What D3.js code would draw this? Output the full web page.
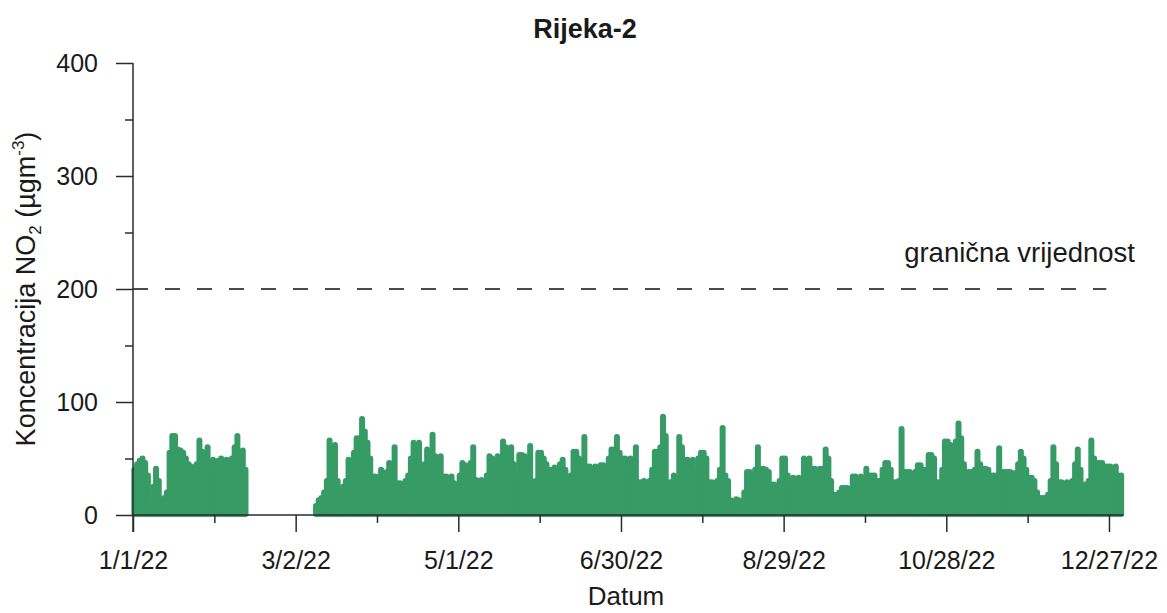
<!DOCTYPE html>
<html>
<head>
<meta charset="utf-8">
<script src="https://cdn.jsdelivr.net/npm/d3@7"></script>
<style>
    body { margin: 0; background: #fff; }
    text { font-family: "Liberation Sans", Arial, sans-serif; fill: #1a1a1a; }
</style>
</head>
<body>
<svg id="chart" width="1167" height="613"></svg>
<script>
// dnevni maksimumi satnih NO2 vrijednosti (µg/m3), procijenjeno sa slike; null = nema podataka
let janMax = [40, 45, 48, 50, 46, 35, 10, 25, 41, 30, 12, 15, 20, 55, 70, 70, 58, 57, 55, 50, 45, 43, 40, 45, 66, 56, 52, 60, 45, 49, 42]
let febMax = [48, 50, 45, 49, 40, 50, 60, 70, 55, 57, 40, null, null, null, null, null, null, null, null, null, null, null, null, null, null, null, null, null]
let marMax = [null, null, null, null, null, null, null, null, 8, 13, 15, 20, 30, 66, 55, 62, 30, 22, 25, 30, 49, 45, 55, 68, 68, 85, 74, 64, 50, 34, 34]
let aprMax = [30, 40, 35, 38, 46, 45, 60, 28, 28, 25, 30, 35, 50, 64, 55, 64, 40, 45, 58, 50, 71, 52, 50, 52, 34, 34, 30, 34, 28, 22]
let mayMax = [35, 46, 44, 40, 46, 60, 31, 30, 31, 28, 35, 52, 50, 45, 52, 48, 65, 60, 55, 60, 45, 35, 53, 53, 52, 50, 61, 19, 30, 55, 55]
let junMax = [50, 45, 40, 40, 42, 38, 45, 49, 40, 31, 35, 56, 56, 50, 45, 69, 43, 43, 40, 43, 42, 44, 44, 40, 50, 58, 58, 69, 55, 50]
let julMax = [50, 49, 50, 45, 60, 29, 29, 30, 28, 30, 40, 56, 56, 60, 87, 70, 29, 29, 35, 30, 69, 60, 49, 49, 45, 49, 40, 50, 55, 55, 50]
let augMax = [29, 29, 28, 30, 40, 77, 35, 30, 13, 12, 14, 13, 12, 20, 38, 38, 35, 40, 60, 41, 41, 40, 38, 27, 27, 25, 30, 50, 50, 35, 29]
let sepMax = [33, 30, 33, 30, 50, 48, 50, 41, 41, 40, 41, 41, 58, 50, 30, 18, 18, 20, 24, 24, 24, 22, 34, 34, 30, 34, 30, 41, 35, 35]
let octMax = [35, 30, 30, 40, 46, 46, 40, 29, 29, 30, 76, 38, 38, 38, 36, 38, 44, 44, 40, 40, 53, 53, 50, 29, 29, 40, 65, 65, 62, 60, 65]
let novMax = [81, 68, 45, 38, 38, 38, 40, 56, 45, 41, 41, 40, 35, 35, 35, 59, 38, 38, 38, 38, 37, 37, 45, 56, 50, 40, 33, 33, 30, 20]
let decMax = [15, 15, 15, 18, 30, 60, 45, 29, 29, 25, 29, 28, 30, 45, 58, 40, 27, 27, 30, 66, 50, 46, 46, 46, 43, 43, 43, 40, 43, 35, 35]

let yTicks = [0, 100, 200, 300, 400]
let limitValue = 200
let limitLabel = "granična vrijednost"
let title = "Rijeka-2"

let width = 1167
let height = 613
let margin = { top: 63, right: 44, bottom: 98, left: 133 }
let dotColor = "#379b66"
let axisColor = "#2b2b2b"

function buildDays() {
    let months = [janMax, febMax, marMax, aprMax, mayMax, junMax, julMax, augMax, sepMax, octMax, novMax, decMax]
    let days = []
    months.forEach(function (m, mi) {
        m.forEach(function (v, di) {
            if (v != null) days.push({ date: new Date(Date.UTC(2022, mi, di + 1)), value: v })
        })
    })
    return days
}

function drawChart() {
    let svg = d3.select("#chart")
    let days = buildDays()
    let start = new Date(Date.UTC(2022, 0, 1))
    let end = new Date(Date.UTC(2023, 0, 1))
    let dayPx = 2.711

    let xScale = d3.scaleUtc()
        .domain([start, end])
        .range([margin.left, margin.left + 365 * dayPx])
    let yScale = d3.scaleLinear()
        .domain([0, 400])
        .range([height - margin.bottom, margin.top])

    let majorX = d3.range(0, 361, 60).map(function (d) { return d3.utcDay.offset(start, d) })
    let minorX = d3.range(30, 361, 60).map(function (d) { return d3.utcDay.offset(start, d) })
    let fmt = d3.utcFormat("%-m/%-d/%y")

    // podaci: po danu stupac od 0 do dnevnog maksimuma, zaobljen kao točke
    let r = 3
    svg.append("g")
        .attr("fill", dotColor)
        .selectAll("rect")
        .data(days)
        .enter()
        .append("rect")
        .attr("x", function (d) { return xScale(d3.utcHour.offset(d.date, 12)) - r })
        .attr("width", 2 * r)
        .attr("y", function (d) { return yScale(d.value) - r })
        .attr("height", function (d) { return yScale(0) - yScale(d.value) + 2 * r - 1 })
        .attr("rx", r)

    // granična vrijednost
    svg.append("line")
        .attr("x1", xScale(start))
        .attr("x2", xScale(d3.utcDay.offset(start, 359)))
        .attr("y1", yScale(limitValue))
        .attr("y2", yScale(limitValue))
        .attr("stroke", "#111")
        .attr("stroke-width", 1.3)
        .attr("stroke-dasharray", "15,17")
    svg.append("text")
        .attr("x", 1135)
        .attr("y", yScale(limitValue) - 27)
        .attr("text-anchor", "end")
        .attr("font-size", "27.5px")
        .text(limitLabel)

    // y os
    let yAxis = svg.append("g")
        .attr("transform", "translate(" + margin.left + ",0)")
        .call(d3.axisLeft(yScale).tickValues(yTicks).tickSize(17).tickPadding(18).tickSizeOuter(0))
    yAxis.append("g")
        .call(d3.axisLeft(yScale).tickValues(d3.range(50, 400, 100)).tickSize(8).tickFormat("").tickSizeOuter(0))
    yAxis.selectAll("path").remove()
    yAxis.append("line")
        .attr("y1", yScale(400))
        .attr("y2", yScale(0) + 17)
        .attr("stroke", axisColor)
        .attr("stroke-width", 1.5)
    yAxis.selectAll("text")
        .attr("font-size", "25px")
        .attr("font-family", "Liberation Sans, Arial, sans-serif")
        .attr("fill", "#1a1a1a")

    // x os
    let xAxis = svg.append("g")
        .attr("transform", "translate(0," + yScale(0) + ")")
        .call(d3.axisBottom(xScale).tickValues(majorX).tickSize(17).tickPadding(19).tickFormat(fmt).tickSizeOuter(0))
    xAxis.append("g")
        .call(d3.axisBottom(xScale).tickValues(minorX).tickSize(8).tickFormat("").tickSizeOuter(0))
    xAxis.selectAll("path").remove()
    xAxis.append("line")
        .attr("x1", xScale(start))
        .attr("x2", xScale(end) + 1)
        .attr("stroke", axisColor)
        .attr("stroke-width", 1.5)
    xAxis.selectAll("text")
        .attr("font-size", "25px")
        .attr("font-family", "Liberation Sans, Arial, sans-serif")
        .attr("fill", "#1a1a1a")

    svg.selectAll(".tick line")
        .attr("stroke", axisColor)
        .attr("stroke-width", 1.5)

    // naslovi
    svg.append("text")
        .attr("x", 585)
        .attr("y", 38)
        .attr("text-anchor", "middle")
        .attr("font-size", "27px")
        .attr("font-weight", "bold")
        .text(title)

    svg.append("text")
        .attr("x", 626)
        .attr("y", 605)
        .attr("text-anchor", "middle")
        .attr("font-size", "26px")
        .text("Datum")

    let yLabel = svg.append("text")
        .attr("transform", "translate(35," + yScale(200) + ") rotate(-90)")
        .attr("text-anchor", "middle")
        .attr("font-size", "27px")
    yLabel.append("tspan").text("Koncentracija NO")
    yLabel.append("tspan").attr("font-size", "17px").attr("dy", 6).text("2")
    yLabel.append("tspan").attr("dy", -6).text(" (µgm")
    yLabel.append("tspan").attr("font-size", "17px").attr("dy", -11).text("-3")
    yLabel.append("tspan").attr("dy", 11).text(")")
}

drawChart()
</script>
</body>
</html>
